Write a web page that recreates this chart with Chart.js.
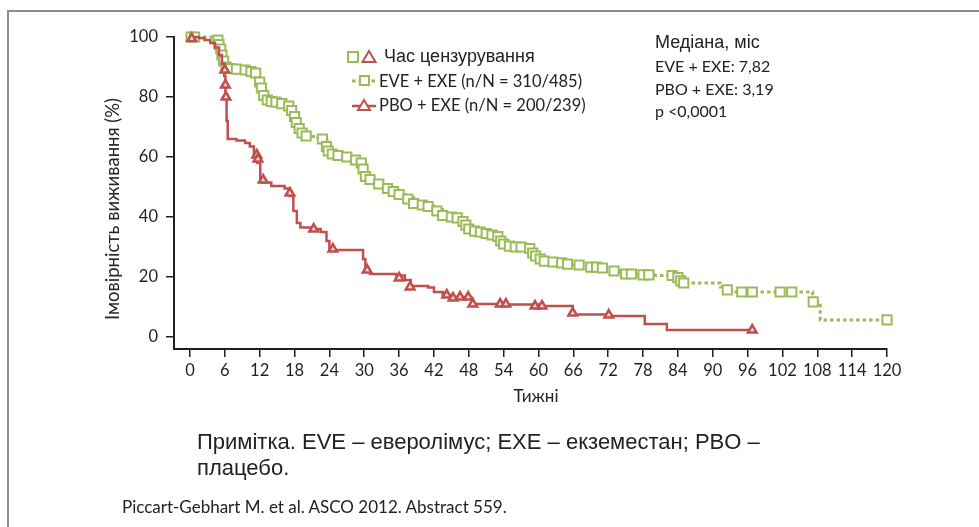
<!DOCTYPE html>
<html lang="uk">
<head>
<meta charset="utf-8">
<title>Імовірність виживання</title>
<script src="https://cdn.jsdelivr.net/npm/chart.js@4/dist/chart.umd.min.js"></script>
<style>
  html, body { margin: 0; padding: 0; background: #fff; }
  #wrap { position: relative; width: 979px; height: 527px; overflow: hidden; }
  #frame { position: absolute; left: 7px; top: 10px; width: 1000px; height: 600px;
           border-left: 2px solid #8f8f8f; border-top: 2px solid #8f8f8f; }
  #km { position: absolute; left: 0; top: 0; }
  .t { position: absolute; white-space: nowrap; color: #222; }
  .cal { font-family: Lato, "Open Sans", sans-serif; }
  .ari { font-family: "Liberation Sans", Arial, sans-serif; }
  .nar { font-family: "Liberation Sans Narrow", "Liberation Sans", sans-serif; }
</style>
</head>
<body>
<div id="wrap">
  <div id="frame"></div>
  <canvas id="km" width="979" height="527"></canvas>

  <div class="t ari" style="left:384px;top:45px;font-size:18px;line-height:22px;">Час цензурування</div>
  <div class="t cal" style="left:379px;top:70px;font-size:16.5px;line-height:22px;">EVE + EXE (n/N = 310/485)</div>
  <div class="t cal" style="left:379px;top:94px;font-size:16.5px;line-height:22px;">PBO + EXE (n/N = 200/239)</div>

  <div class="t ari" style="left:655px;top:31px;font-size:18px;line-height:22px;">Медіана, міс</div>
  <div class="t cal" style="left:655px;top:55px;font-size:16px;line-height:22px;">EVE + EXE: 7,82</div>
  <div class="t cal" style="left:655px;top:78px;font-size:16px;line-height:22px;">PBO + EXE: 3,19</div>
  <div class="t cal" style="left:655px;top:100px;font-size:16px;line-height:22px;">p &lt;0,0001</div>

  <div class="t cal" style="left:112px;top:209px;font-size:18.5px;line-height:22px;transform:translate(-50%,-50%) rotate(-90deg);">Імовірність виживання (%)</div>
  <div class="t cal" style="left:536px;top:385px;font-size:17px;line-height:22px;transform:translateX(-50%);">Тижні</div>

  <div class="t nar" style="left:197px;top:428px;font-size:22px;line-height:28px;">Примітка. EVE – еверолімус; EXE – екземестан; PBO –</div>
  <div class="t nar" style="left:197px;top:454px;font-size:22px;line-height:28px;">плацебо.</div>
  <div class="t cal" style="left:122px;top:497px;font-size:17px;line-height:20px;">Piccart-Gebhart M. et al. ASCO 2012. Abstract 559.</div>
</div>

<script>
  // Kaplan-Meier step points (weeks, % surviving)
  var EVE_WEEKS = [0, 4.8, 5.2, 5.6, 6, 6.5, 8, 10, 11.5, 12, 12.4, 12.8, 13.6, 15, 16.5, 17.2, 17.8, 18.2, 18.7, 19.2, 20,
    22, 23, 23.6, 24.2, 25, 27, 29, 29.6, 30, 30.5, 31.5, 33, 34.5, 35.5, 37, 38.5, 40, 42, 43.5, 45, 46.5, 47.5, 48.5,
    50, 52, 53.3, 54, 55, 58, 58.8, 59.5, 61, 63, 66, 68.5, 71, 72.5, 74, 76, 80, 83, 84, 84.5, 90.4, 91.3, 92.6, 106.7,
    107.2, 108.5, 120];
  var EVE_SURV = [100, 99.5, 97, 94, 91.5, 89.5, 89, 88.5, 88, 85, 82, 80, 78.5, 78, 77.5, 76.5, 74.5, 72, 69.5, 67.5, 66.8,
    66.5, 65.5, 63, 61, 60.5, 59.7, 58.5, 56.5, 54, 52, 51.5, 50, 48.5, 47.5, 46.5, 44.5, 43.7, 42.5, 40.3, 39.7, 39, 37, 35.5,
    34.7, 34, 33, 31, 30, 29.7, 28, 26.5, 25, 24.5, 24, 23.3, 23, 22, 21, 20.7, 20.5, 20.3, 19, 18, 18, 16.7, 15, 15,
    11.7, 5.7, 5.7];

  var PBO_WEEKS = [0, 1.5, 2.5, 3.5, 4.3, 5, 5.5, 5.9, 6.1, 6.3, 6.5, 8, 9.5, 10.3, 11, 11.6, 12.1, 12.4, 14, 16.3, 17.2,
    17.8, 18.4, 19, 21, 22.5, 23.5, 24, 29.3, 29.8, 30.2, 31, 35.5, 37, 38, 41, 42, 43.5, 45, 48, 48.6, 54, 60, 65.9,
    72, 78.3, 82.1, 96.8];
  var PBO_SURV = [100, 99.7, 99, 98, 96.5, 94, 91, 87, 80, 72, 66, 65.5, 64.7, 63.5, 61, 58, 53, 51.5, 50.3, 49.5, 47,
    42, 38, 36.5, 36, 35, 32, 29, 29, 26, 22, 21, 20.5, 19, 17, 16.5, 15, 14, 13.3, 13, 11, 10.8, 10.3, 7.5,
    7, 4.3, 2.3, 2.3];

  // censoring marks
  var EVE_CENS_WEEKS = [0.2, 0.8, 4.8, 5, 5.3, 5.5, 5.8, 6.2, 7, 8, 9.5, 10.5, 11.3, 12, 12.3, 12.7, 13.3, 14, 14.8, 15.8,
    17, 17.5, 18, 18.3, 18.8, 19.3, 20, 22.8, 23.5, 23.8, 24.5, 25.5, 27, 28.5, 29.5, 29.8, 30.2, 31, 32.5, 34, 35, 36,
    37.5, 38.5, 40, 41, 42.5, 43.5, 45, 46, 47, 47.5, 48, 49, 50, 51, 52, 53, 53.5, 54, 55, 56, 57, 58.5, 59, 59.5, 60.3,
    61, 62.5, 64, 65, 67, 69, 70, 71, 73, 75, 76, 78, 79, 83, 84, 84.5, 85, 92.5, 95, 96.8, 101.6, 103.6, 107.3, 120];
  var EVE_CENS_SURV = [100, 100, 99, 97.5, 96, 94, 92, 90, 89.5, 89.3, 89, 88.5, 88, 85, 83, 80.5, 79, 78.5, 78.3, 77.8,
    77, 75.5, 73.5, 71.5, 69.5, 68, 67, 66, 63.5, 62, 61, 60.5, 60, 59, 58, 56, 53.5, 52.5, 51, 49.5, 48.5, 47.5,
    46, 44.5, 44, 43.5, 42, 40.5, 40, 39.7, 38.5, 37.3, 36, 35.3, 35, 34.5, 34, 33.5, 32, 31, 30.3, 30, 30, 29.5, 28, 27, 26,
    25.3, 25, 24.7, 24.3, 24, 23.3, 23.3, 23, 22, 21, 21, 20.7, 20.7, 20.5, 19.8, 18.7, 18, 15.7, 15, 15, 15, 15, 11.7, 5.7];

  var PBO_CENS_WEEKS = [0.3, 6.0, 6.1, 6.2, 11.5, 11.7, 12.6, 17.2, 21.3, 24.6, 30.5, 36, 37.9, 44.2, 45.3, 46.5, 47.9,
    48.7, 53.4, 54.4, 59.4, 60.6, 65.9, 72.1, 96.8];
  var PBO_CENS_SURV = [99.5, 89, 84, 80, 60.7, 59.3, 52.3, 48, 36, 29.3, 22.3, 19.7, 16.7, 14, 13, 13.3, 13.3,
    11, 11, 11, 10.3, 10.3, 8, 7.3, 2.3];

  var X_TICKS = [0, 6, 12, 18, 24, 30, 36, 42, 48, 54, 60, 66, 72, 78, 84, 90, 96, 102, 108, 114, 120];
  var Y_TICKS = [0, 20, 40, 60, 80, 100];

  var GREEN = '#9bbb59';
  var RED = '#c0504d';
  var INK = '#231f20';

  function pts(xs, ys) {
    return xs.map(function (x, i) { return { x: x, y: ys[i] }; });
  }

  // legend glyphs, drawn in the same style as the chart marks
  var legendIcons = {
    id: 'legendIcons',
    afterDraw: function (chart) {
      var ctx = chart.ctx;
      ctx.save();
      ctx.lineWidth = 2;
      // row 1: open square + open triangle
      ctx.strokeStyle = GREEN;
      ctx.strokeRect(348, 52, 10, 10);
      ctx.strokeStyle = RED;
      ctx.beginPath();
      ctx.moveTo(369, 51); ctx.lineTo(375.5, 62); ctx.lineTo(362.5, 62); ctx.closePath();
      ctx.stroke();
      // row 2: dotted green line with square
      ctx.strokeStyle = GREEN;
      ctx.lineWidth = 3;
      ctx.setLineDash([3.5, 3]);
      ctx.beginPath(); ctx.moveTo(352, 81); ctx.lineTo(376, 81); ctx.stroke();
      ctx.setLineDash([]);
      ctx.lineWidth = 2;
      ctx.fillStyle = '#fff';
      ctx.fillRect(360, 76, 9, 9);
      ctx.strokeRect(360, 76, 9, 9);
      // row 3: solid red line with triangle
      ctx.strokeStyle = RED;
      ctx.lineWidth = 2.5;
      ctx.beginPath(); ctx.moveTo(352, 106); ctx.lineTo(376, 106); ctx.stroke();
      ctx.lineWidth = 2;
      ctx.beginPath();
      ctx.moveTo(364, 100); ctx.lineTo(370, 110); ctx.lineTo(358, 110); ctx.closePath();
      ctx.fill(); ctx.stroke();
      ctx.restore();
    }
  };

  var tickFont = { family: 'Lato, "Open Sans", sans-serif', size: 16.5 };

  new Chart(document.getElementById('km'), {
    type: 'line',
    data: {
      datasets: [{
        label: 'PBO censored',
        data: pts(PBO_CENS_WEEKS, PBO_CENS_SURV),
        showLine: false,
        pointStyle: 'triangle',
        pointRadius: 5,
        borderColor: RED,
        backgroundColor: '#f6dede',
        pointBorderWidth: 2.5,
        clip: false
      }, {
        label: 'PBO + EXE',
        data: pts(PBO_WEEKS, PBO_SURV),
        stepped: true,
        borderColor: RED,
        borderWidth: 2.5,
        pointRadius: 0,
        fill: false,
        clip: false
      }, {
        label: 'EVE censored',
        data: pts(EVE_CENS_WEEKS, EVE_CENS_SURV),
        showLine: false,
        pointStyle: 'rect',
        pointRadius: 6.5,
        borderColor: GREEN,
        backgroundColor: '#fff',
        pointBorderWidth: 2,
        clip: false
      }, {
        label: 'EVE + EXE',
        data: pts(EVE_WEEKS, EVE_SURV),
        stepped: true,
        borderColor: GREEN,
        borderWidth: 3,
        borderDash: [3.5, 3],
        pointRadius: 0,
        fill: false,
        clip: false
      }]
    },
    options: {
      responsive: false,
      animation: false,
      events: [],
      layout: { padding: { left: 0, top: 37, right: 92, bottom: 0 } },
      plugins: { legend: { display: false }, tooltip: { enabled: false } },
      scales: {
        x: {
          type: 'linear',
          min: -2.75,
          max: 120,
          afterBuildTicks: function (s) { s.ticks = X_TICKS.map(function (v) { return { value: v }; }); },
          afterFit: function (s) { s.height = 178; },
          ticks: { color: INK, font: tickFont, padding: 4, maxRotation: 0, autoSkip: false },
          grid: { drawOnChartArea: false, color: INK, lineWidth: 1.5, tickLength: 8 },
          border: { color: INK, width: 2 }
        },
        y: {
          min: -4,
          max: 100,
          afterBuildTicks: function (s) { s.ticks = Y_TICKS.map(function (v) { return { value: v }; }); },
          afterFit: function (s) { s.width = 174; },
          ticks: { color: INK, font: tickFont, padding: 8 },
          grid: { drawOnChartArea: false, color: INK, lineWidth: 1.5, tickLength: 8 },
          border: { color: INK, width: 2 }
        }
      }
    },
    plugins: [legendIcons]
  });
</script>
</body>
</html>
